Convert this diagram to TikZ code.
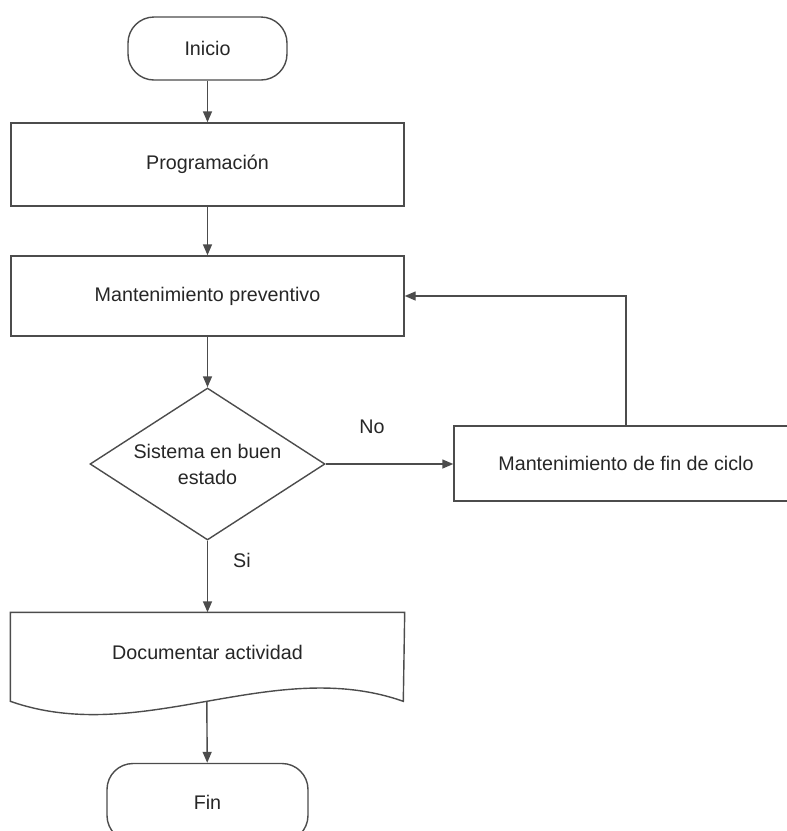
\documentclass[tikz,border=0pt]{standalone}
\usepackage{fontspec}
\setsansfont{Liberation Sans}
\usetikzlibrary{arrows.meta,shapes.geometric,calc}
\tikzset{every picture/.style={/utils/exec={\sffamily\fontsize{9.85}{13}\selectfont}}}
\tikzset{terminal/.style={draw,rounded corners=13pt}}
\tikzset{proceso/.style={draw,minimum width=196.5pt,minimum height=41.5pt}}
\tikzset{decision/.style={draw,diamond,aspect=1.55,inner sep=0pt,minimum width=117.5pt,minimum height=76pt,align=center}}
\tikzset{flecha/.style={-{Triangle[length=5.5pt,width=4.5pt]}}}

\begin{document}
\begin{tikzpicture}[x=0.5pt,y=-0.5pt,line width=0.7pt,draw=black!70,text=black!85]
    \useasboundingbox (0,0) rectangle (787,831);
    \clip (0,0) rectangle (787,831);
    \node [terminal,minimum width=79.5pt,minimum height=31.5pt] (inicio) at (207.5,48.5) {Inicio};
    \node [proceso] (prog) at (207.5,164.5) {Programación};
    \node [proceso,minimum height=40pt] (mant) at (207.5,296) {Mantenimiento preventivo};
    \node [decision] (dec) at (207.5,464) {Sistema en buen\\estado};
    \node [proceso,minimum width=172pt,minimum height=37.5pt] (ciclo) at (626,463.5) {Mantenimiento de fin de ciclo};
    \node [minimum width=196.5pt,minimum height=39pt] (doc) at (207.5,652) {Documentar actividad};
    \draw (doc.north west) -- ++(0,89) .. controls +(131,46) and +(-131,-46) .. node [coordinate,pos=0.5] (docbase) {} ++(393,0) -- (doc.north east) -- cycle;
    \node [terminal,minimum width=100.5pt,minimum height=39pt] (fin) at (207.5,802.5) {Fin};
    \node (no) at (372,427) {No};
    \node (si) at (242,560) {Si};
    \draw [flecha] (inicio) -- (prog);
    \draw [flecha] (prog) -- (mant);
    \draw [flecha] (mant) -- (dec);
    \draw [flecha] (dec.east) -- (dec.east -| ciclo.west);
    \draw [flecha] (ciclo.north) |- (mant.east);
    \draw [flecha] (dec) -- (doc);
    \draw [flecha] (docbase) -- (fin);
\end{tikzpicture}
\end{document}
